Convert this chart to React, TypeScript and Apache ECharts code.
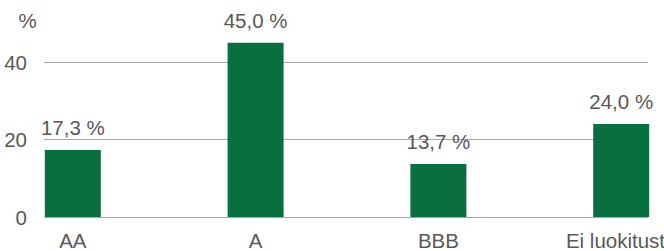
import React, { useEffect, useRef } from "react";
import * as echarts from "echarts";

const categories = ["AA", "A", "BBB", "Ei luokitusta"];
const values = [17.3, 45.0, 13.7, 24.0];
const yTicks = [0, 20, 40];
const unitLabel = "%";

const FONT = "'Liberation Sans', Arial, Helvetica, sans-serif";
const TEXT = "#595959";
const GREEN = "#08703e";
const FS = 20.5;

export default function App() {
  const ref = useRef<HTMLDivElement>(null);
  useEffect(() => {
    document.body.style.margin = "0";
    const chart = echarts.init(ref.current!, undefined, { renderer: "svg" });
    chart.setOption({
      animation: false,
      grid: [
        { left: 44, right: 16, top: 62, bottom: 34, outerBoundsMode: "none", containLabel: false },
        { left: 72.8, right: 42.8, top: 62, bottom: 34, outerBoundsMode: "none", containLabel: false },
      ],
      graphic: [
        {
          type: "text",
          x: 27.5,
          y: 20.5,
          style: {
            text: unitLabel,
            font: `${FS}px ${FONT}`,
            fill: TEXT,
            align: "center",
            verticalAlign: "middle",
          },
        },
      ],
      xAxis: [
        { type: "category", gridIndex: 0, show: false, data: categories },
        {
          type: "category",
          gridIndex: 1,
          data: categories,
          boundaryGap: false,
          axisLine: { show: false },
          axisTick: { show: false },
          axisLabel: {
            color: TEXT,
            fontFamily: FONT,
            fontSize: FS,
            margin: 13,
            interval: 0,
            hideOverlap: false,
          },
        },
      ],
      yAxis: [
        {
          type: "value",
          gridIndex: 0,
          min: yTicks[0],
          max: yTicks[yTicks.length - 1],
          interval: yTicks[1] - yTicks[0],
          axisLine: { show: false },
          axisTick: { show: false },
          axisLabel: {
            color: TEXT,
            fontFamily: FONT,
            fontSize: FS,
            margin: 17,
          },
          splitLine: { lineStyle: { color: "#a8a8a8", width: 1 } },
        },
        {
          type: "value",
          gridIndex: 1,
          min: yTicks[0],
          max: yTicks[yTicks.length - 1],
          interval: yTicks[1] - yTicks[0],
          show: false,
        },
      ],
      series: [
        {
          type: "bar",
          xAxisIndex: 1,
          yAxisIndex: 1,
          data: values,
          barWidth: 56,
          clip: false,
          itemStyle: { color: GREEN },
          label: {
            show: true,
            position: "top",
            distance: 12,
            color: TEXT,
            fontFamily: FONT,
            fontSize: FS,
            formatter: (p: any) => p.value.toFixed(1).replace(".", ",") + " %",
          },
        },
      ],
    });
    return () => chart.dispose();
  }, []);
  return <div ref={ref} style={{ width: 664, height: 251 }} />;
}
